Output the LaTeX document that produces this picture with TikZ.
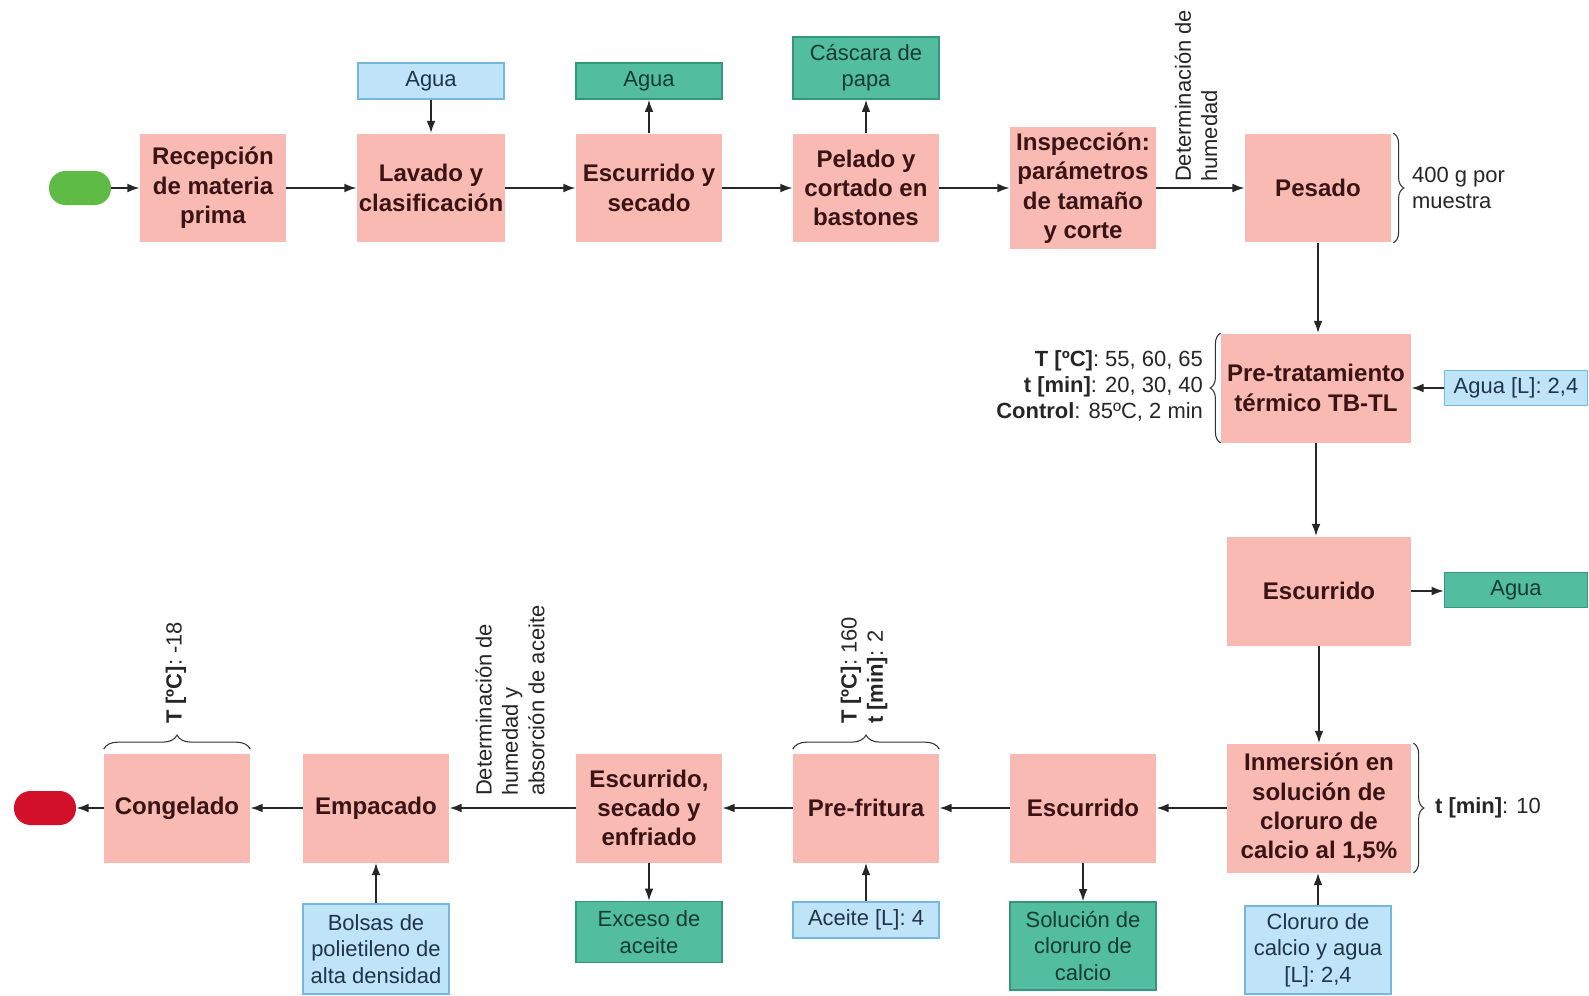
\documentclass[tikz,border=0pt]{standalone}
\usepackage{fontspec}
\setmainfont{Liberation Sans}
\usetikzlibrary{arrows.meta,decorations.pathreplacing}

\definecolor{procpink}{HTML}{F9BAB3}
\definecolor{proctext}{HTML}{3A1414}
\definecolor{inblue}{HTML}{BFE4F8}
\definecolor{inborder}{HTML}{74B8E0}
\definecolor{intext}{HTML}{1F3547}
\definecolor{outgreen}{HTML}{52BE9F}
\definecolor{outborder}{HTML}{34977C}
\definecolor{outtext}{HTML}{173A31}
\definecolor{startgreen}{HTML}{5DBB46}
\definecolor{endred}{HTML}{D3102A}

\newcommand{\regfont}{\fontsize{12.5}{15}\selectfont}
\newcommand{\boldfont}{\fontsize{13.7}{16.7}\selectfont\bfseries}

\tikzset{
  proc/.style={fill=procpink, text=proctext, font=\boldfont, align=center,
    minimum width=2.92cm, minimum height=2.18cm, inner sep=1pt},
  inbox/.style={fill=inblue, draw=inborder, line width=0.7pt, text=intext,
    font=\regfont, align=center, minimum width=2.92cm, inner sep=1pt},
  outbox/.style={fill=outgreen, draw=outborder, line width=0.7pt, text=outtext,
    font=\regfont, align=center, minimum width=2.92cm, inner sep=1pt},
  term/.style={rounded corners=0.33cm, minimum width=1.24cm, minimum height=0.68cm},
  flow/.style={draw=black!85, line width=1pt, -{Latex[length=7pt,width=5pt]}},
  brc/.style={decorate, decoration={brace, amplitude=6pt}, line width=0.6pt, draw=black!80},
  note/.style={font=\regfont, text=black!85, inner sep=1pt},
}

\begin{document}
\begin{tikzpicture}[x=0.02cm, y=-0.02cm]

\useasboundingbox (0,0) rectangle (1589,995);

% Top row
\node[term, fill=startgreen] (start) at (80,188) {};
\node[proc] (recep) at (213,188) {Recepción\\de materia\\prima};
\node[proc] (lavado) at (431,188) {Lavado y\\clasificación};
\node[proc] (escsec) at (649,188) {Escurrido y\\secado};
\node[proc] (pelado) at (866,188) {Pelado y\\cortado en\\bastones};
\node[proc, minimum height=2.46cm] (inspec) at (1083,188) {Inspección:\\parámetros\\de tamaño\\y corte};
\node[proc] (pesado) at (1318,188) {Pesado};

\node[inbox, minimum height=0.72cm] (agua1) at (431,81) {Agua};
\node[outbox, minimum height=0.72cm] (agua2) at (649,81) {Agua};
\node[outbox, minimum height=1.24cm] (cascara) at (866,68) {Cáscara de\\papa};

% Right column
\node[proc, minimum width=3.8cm] (pretrat) at (1316,388) {Pre-tratamiento\\térmico TB-TL};
\node[proc, minimum width=3.68cm] (escR) at (1319,591) {Escurrido};
\node[proc, minimum width=3.68cm, minimum height=2.58cm] (inmer) at (1319,808) {Inmersión en\\solución de\\cloruro de\\calcio al 1,5\%};

\node[inbox, minimum width=2.86cm, minimum height=0.7cm] (aguaL) at (1516,388) {Agua [L]: 2,4};
\node[outbox, minimum width=2.86cm, minimum height=0.7cm] (agua3) at (1516,590) {Agua};
\node[inbox, minimum height=1.76cm] (cloruro) at (1318,950) {Cloruro de\\calcio y agua\\{[L]}: 2,4};

% Bottom row
\node[proc] (escB) at (1083,808) {Escurrido};
\node[proc] (prefrit) at (866,808) {Pre-fritura};
\node[proc] (escsecenf) at (649,808) {Escurrido,\\secado y\\enfriado};
\node[proc] (empac) at (376,808) {Empacado};
\node[proc] (congel) at (177,808) {Congelado};
\node[term, fill=endred] (fin) at (45,808) {};

\node[outbox, minimum height=1.76cm] (solucion) at (1083,946) {Solución de\\cloruro de\\calcio};
\node[inbox, minimum height=0.72cm] (aceite) at (866,920) {Aceite [L]: 4};
\node[outbox, minimum height=1.22cm] (exceso) at (649,932) {Exceso de\\aceite};
\node[inbox, minimum height=1.8cm] (bolsas) at (376,949) {Bolsas de\\polietileno de\\alta densidad};

% Flow arrows
\draw[flow] (start) -- (recep);
\draw[flow] (recep) -- (lavado);
\draw[flow] (agua1) -- (lavado);
\draw[flow] (lavado) -- (escsec);
\draw[flow] (escsec) -- (agua2);
\draw[flow] (escsec) -- (pelado);
\draw[flow] (pelado) -- (cascara);
\draw[flow] (pelado) -- (inspec);
\draw[flow] (inspec) -- (pesado);
\draw[flow] (pesado) -- (pesado |- pretrat.north);
\draw[flow] (aguaL.west) -- (aguaL.west -| pretrat.east);
\draw[flow] (pretrat) -- (pretrat |- escR.north);
\draw[flow] (escR.east) -- (escR.east -| agua3.west);
\draw[flow] (escR) -- (escR |- inmer.north);
\draw[flow] (cloruro) -- (cloruro |- inmer.south);
\draw[flow] (inmer) -- (escB);
\draw[flow] (escB) -- (solucion);
\draw[flow] (escB) -- (prefrit);
\draw[flow] (aceite) -- (prefrit);
\draw[flow] (prefrit) -- (escsecenf);
\draw[flow] (escsecenf) -- (exceso);
\draw[flow] (escsecenf) -- (empac);
\draw[flow] (bolsas) -- (empac);
\draw[flow] (empac) -- (congel);
\draw[flow] (congel) -- (fin);

% Braces and conditions
\draw[brc] ([xshift=0.04cm]pesado.north east) -- ([xshift=0.04cm]pesado.south east);
\node[note, anchor=west, align=left] (pesnote) at (1410,188) {400 g por\\muestra};

\draw[brc] (pretrat.south west) -- (pretrat.north west);
\node[note, anchor=east, align=right] (pretnote) at (1205,386)
  {\textbf{T [ºC]}: 55, 60, 65\\\textbf{t [min]}: 20, 30, 40\\\textbf{Control}: 85ºC, 2 min};

\draw[brc] ([xshift=0.04cm]inmer.north east) -- ([xshift=0.04cm]inmer.south east);
\node[note, anchor=west] (inmnote) at (1433,808) {\textbf{t [min]}: 10};

\draw[brc, decoration={amplitude=8pt}] ([yshift=0.08cm]prefrit.north west) -- ([yshift=0.08cm]prefrit.north east);
\node[note, rotate=90, anchor=west, align=left] (frinote) at (864,726)
  {\textbf{T [ºC]}: 160\\\textbf{t [min]}: 2};

\draw[brc, decoration={amplitude=8pt}] ([yshift=0.08cm]congel.north west) -- ([yshift=0.08cm]congel.north east);
\node[note, rotate=90, anchor=west] (connote) at (176,726) {\textbf{T [ºC]}: -18};

% Measurements
\node[note, rotate=90, anchor=west, align=left] (humnote) at (1196,184)
  {Determinación de\\humedad};
\node[note, rotate=90, anchor=west, align=left] (absnote) at (510,798)
  {Determinación de\\humedad y\\absorción de aceite};

\end{tikzpicture}
\end{document}
